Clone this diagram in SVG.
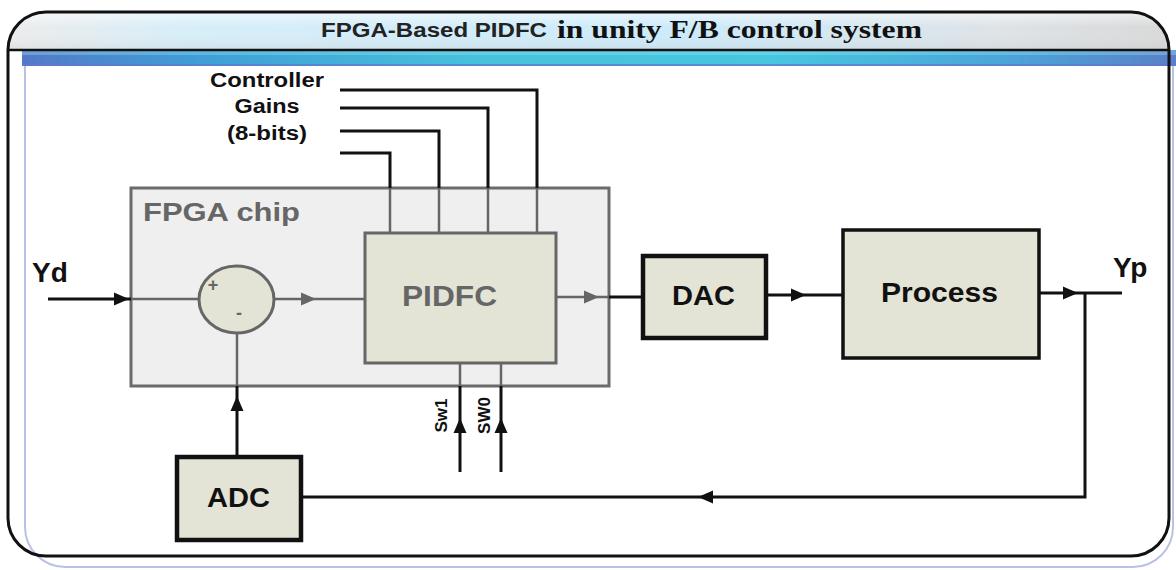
<svg xmlns="http://www.w3.org/2000/svg" width="1176" height="570" viewBox="0 0 1176 570">
<style>
.blk{stroke:#111;stroke-width:3;fill:none}
.gry{stroke:#666;stroke-width:2.5;fill:none}
.box{fill:#e3e3d6}
.sans{font-family:"Liberation Sans",Arial,sans-serif;font-weight:bold}
.dk{fill:#111}
.gt{fill:#666}
</style>
<defs>
<linearGradient id="hdr" x1="0" y1="0" x2="1" y2="0">
<stop offset="0" stop-color="#ececec"/>
<stop offset="0.15" stop-color="#d6eef9"/>
<stop offset="0.6" stop-color="#cbeafa"/>
<stop offset="0.85" stop-color="#dde3e7"/>
<stop offset="1" stop-color="#d8d8d8"/>
</linearGradient>
<linearGradient id="hdrv" x1="0" y1="0" x2="0" y2="1">
<stop offset="0" stop-color="#ffffff" stop-opacity="0.6"/>
<stop offset="0.4" stop-color="#ffffff" stop-opacity="0"/>
<stop offset="1" stop-color="#c0c0c0" stop-opacity="0.25"/>
</linearGradient>
<linearGradient id="bar" x1="0" y1="0" x2="1" y2="0">
<stop offset="0" stop-color="#5578c8"/>
<stop offset="0.15" stop-color="#3f9ed6"/>
<stop offset="0.4" stop-color="#46c2dc"/>
<stop offset="0.65" stop-color="#47c6e0"/>
<stop offset="0.85" stop-color="#4aa6d8"/>
<stop offset="1" stop-color="#5a80c8"/>
</linearGradient>
<path id="ah" d="M0,0 L-15,-6.5 L-15,6.5 Z"/>
</defs>

<!-- frame -->
<g id="frame">
<path d="M8,50 L8,518 A38 38 0 0 0 46,556 L1131,556 A38 38 0 0 0 1169,518 L1169,50 Z" fill="#fff"/>
<path d="M25,66 L25,527 A40 40 0 0 0 65,567 L1133,567 A40 40 0 0 0 1173,527 L1173,60" fill="none" stroke="#b8c2e4" stroke-width="2"/>
<path d="M8,50 A38 38 0 0 1 46,12 L1131,12 A38 38 0 0 1 1169,50 Z" fill="url(#hdr)"/>
<path d="M8,50 A38 38 0 0 1 46,12 L1131,12 A38 38 0 0 1 1169,50 Z" fill="url(#hdrv)"/>
<rect x="22" y="50" width="1154" height="16" fill="url(#bar)"/>
<rect x="22" y="50" width="1154" height="5" fill="#9fe4f4" opacity="0.35"/>
<line x1="22" y1="65" x2="1176" y2="65" stroke="#5f78cc" stroke-width="1.5"/>
<path d="M8,50 A38 38 0 0 1 46,12 L1131,12 A38 38 0 0 1 1169,50 L1169,518 A38 38 0 0 1 1131,556 L46,556 A38 38 0 0 1 8,518 Z" fill="none" stroke="#111" stroke-width="3"/>
<line x1="8" y1="50" x2="1169" y2="50" stroke="#111" stroke-width="2.5"/>
<text x="321" y="37" class="sans" font-size="20" fill="#222" textLength="226" lengthAdjust="spacingAndGlyphs">FPGA-Based PIDFC</text>
<text x="557" y="38" font-family="'Liberation Serif','Times New Roman',serif" font-weight="bold" font-size="25" fill="#111" textLength="365" lengthAdjust="spacingAndGlyphs">in unity F/B control system</text>
</g>

<!-- FPGA chip -->
<g id="fpga-chip">
<rect x="131" y="188" width="478" height="198" fill="#efefef" stroke="#6b6b6b" stroke-width="3"/>
<text x="143" y="221" class="sans gt" font-size="26" textLength="157" lengthAdjust="spacingAndGlyphs">FPGA chip</text>
</g>

<g id="sum">
<ellipse cx="236.5" cy="299.5" rx="37.5" ry="33.5" class="box" stroke="#666" stroke-width="3"/>
<text x="213" y="291" class="sans gt" font-size="18" text-anchor="middle">+</text>
<text x="239" y="319" class="sans gt" font-size="18" text-anchor="middle">-</text>
</g>

<g id="pidfc">
<rect x="365" y="233" width="191" height="130" class="box" stroke="#666" stroke-width="3"/>
<text x="402" y="306" class="sans gt" font-size="29" textLength="95" lengthAdjust="spacingAndGlyphs">PIDFC</text>
</g>

<g id="dac">
<rect x="643" y="256" width="123" height="82" class="box" stroke="#111" stroke-width="4.5"/>
<text x="672" y="305" class="sans dk" font-size="28" textLength="63" lengthAdjust="spacingAndGlyphs">DAC</text>
</g>

<g id="process">
<rect x="843" y="230" width="196" height="128" class="box" stroke="#111" stroke-width="3.5"/>
<text x="881" y="302" class="sans dk" font-size="28" textLength="117" lengthAdjust="spacingAndGlyphs">Process</text>
</g>

<g id="adc">
<rect x="177" y="457" width="124" height="83" class="box" stroke="#111" stroke-width="4.5"/>
<text x="207" y="507" class="sans dk" font-size="28" textLength="63" lengthAdjust="spacingAndGlyphs">ADC</text>
</g>

<g id="labels">
<text x="32" y="282" class="sans dk" font-size="28">Yd</text>
<text x="1113" y="277" class="sans dk" font-size="28">Yp</text>
<text x="267" y="87" class="sans dk" font-size="20" text-anchor="middle" textLength="114" lengthAdjust="spacingAndGlyphs">Controller</text>
<text x="267" y="113" class="sans dk" font-size="20" text-anchor="middle" textLength="65" lengthAdjust="spacingAndGlyphs">Gains</text>
<text x="267" y="140" class="sans dk" font-size="20" text-anchor="middle" textLength="80" lengthAdjust="spacingAndGlyphs">(8-bits)</text>
<text transform="translate(447,415.5) rotate(-90)" class="sans dk" font-size="17" text-anchor="middle">Sw1</text>
<text transform="translate(490,415.5) rotate(-90)" class="sans dk" font-size="17" text-anchor="middle">SW0</text>
</g>

<!-- connectors -->
<g id="connectors">
<line x1="48" y1="299" x2="131" y2="299" class="blk"/>
<use href="#ah" transform="translate(129,299)" fill="#111"/>
<line x1="131" y1="299" x2="199" y2="299" class="gry"/>
<line x1="274" y1="299" x2="365" y2="299" class="gry"/>
<use href="#ah" transform="translate(316,299)" fill="#666"/>
<line x1="556" y1="297" x2="609" y2="297" class="gry"/>
<use href="#ah" transform="translate(599,297)" fill="#666"/>
<line x1="609" y1="297" x2="643" y2="297" class="blk"/>
<line x1="766" y1="295" x2="843" y2="295" class="blk"/>
<use href="#ah" transform="translate(806,295)" fill="#111"/>
<line x1="1039" y1="293" x2="1122" y2="293" class="blk"/>
<use href="#ah" transform="translate(1078,293)" fill="#111"/>
<polyline points="1085,293 1085,497 301,497" class="blk"/>
<use href="#ah" transform="translate(698,497) rotate(180)" fill="#111"/>
<line x1="237" y1="457" x2="237" y2="386" class="blk"/>
<use href="#ah" transform="translate(237,396) rotate(-90)" fill="#111"/>
<line x1="237" y1="386" x2="237" y2="333" class="gry"/>
<line x1="460" y1="472" x2="460" y2="386" class="blk"/>
<line x1="460" y1="386" x2="460" y2="363" class="gry"/>
<use href="#ah" transform="translate(460,418) rotate(-90)" fill="#111"/>
<line x1="501" y1="472" x2="501" y2="386" class="blk"/>
<line x1="501" y1="386" x2="501" y2="363" class="gry"/>
<use href="#ah" transform="translate(501,418) rotate(-90)" fill="#111"/>
<polyline points="340,90 537,90 537,188" class="blk"/>
<line x1="537" y1="188" x2="537" y2="233" class="gry"/>
<polyline points="340,108 488,108 488,188" class="blk"/>
<line x1="488" y1="188" x2="488" y2="233" class="gry"/>
<polyline points="340,131 439,131 439,188" class="blk"/>
<line x1="439" y1="188" x2="439" y2="233" class="gry"/>
<polyline points="340,153 390,153 390,188" class="blk"/>
<line x1="390" y1="188" x2="390" y2="233" class="gry"/>
</g>
</svg>
